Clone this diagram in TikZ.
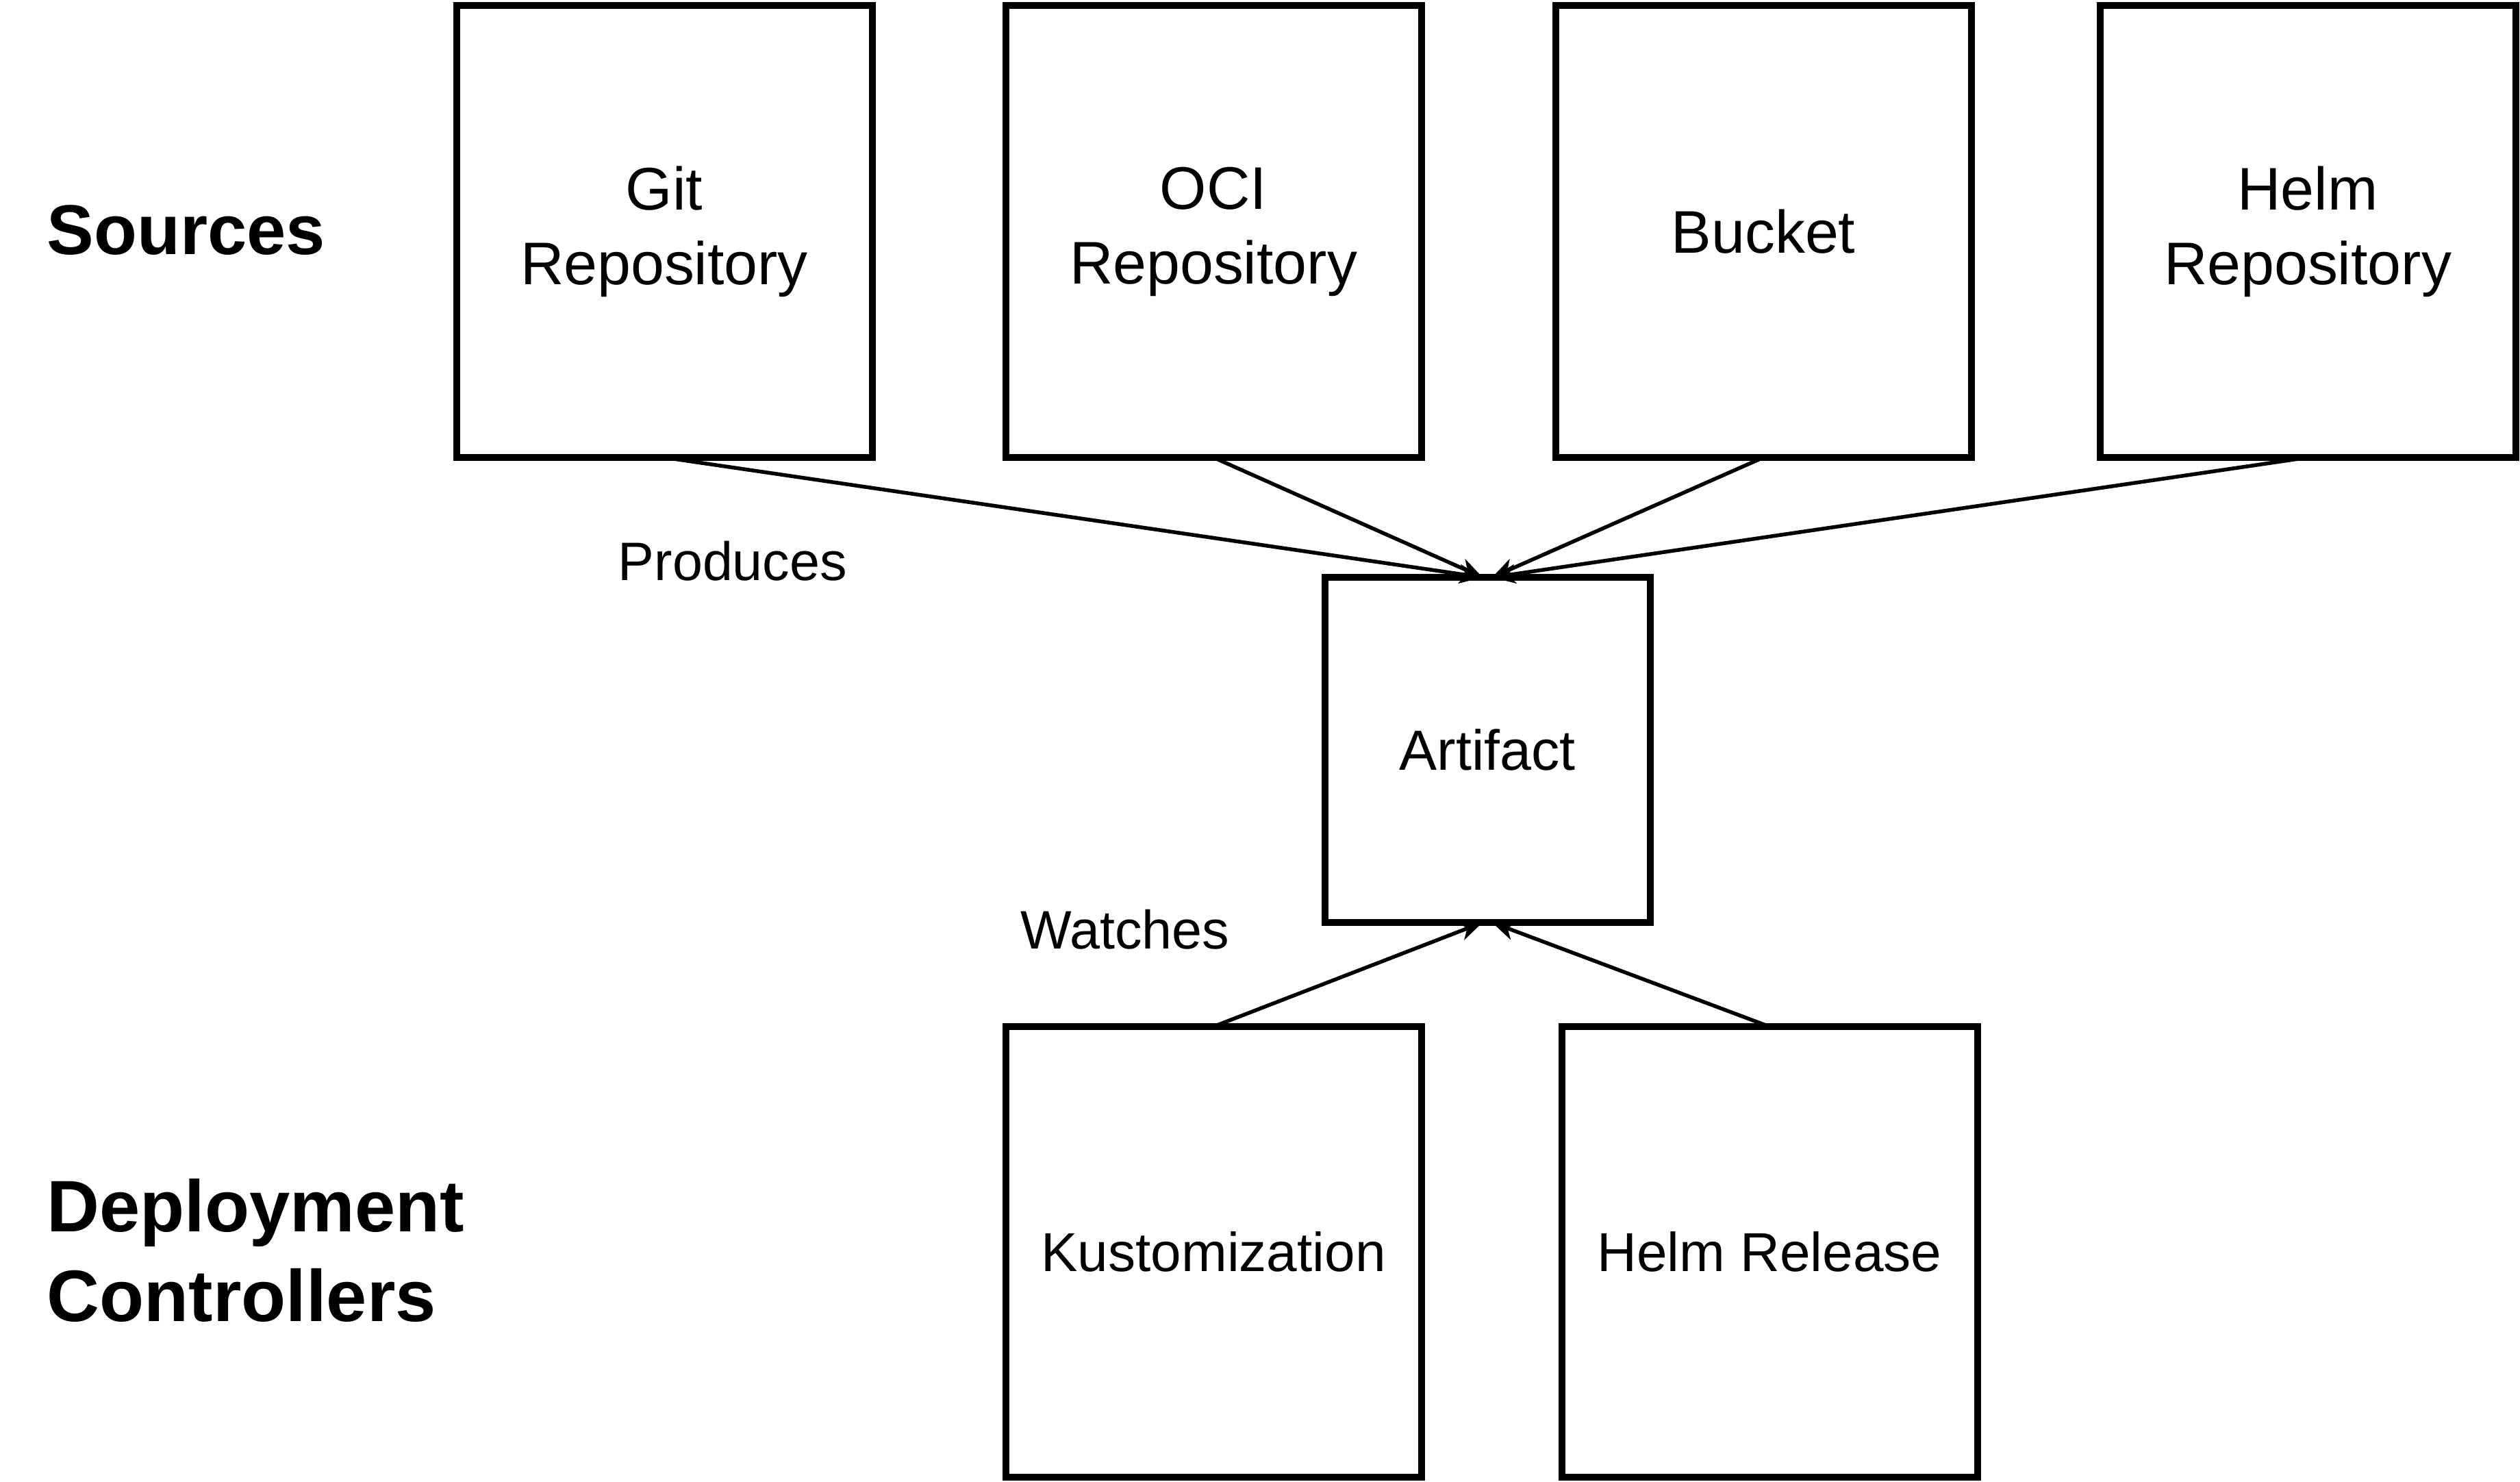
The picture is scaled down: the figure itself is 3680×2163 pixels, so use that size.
\documentclass[tikz,border=0pt]{standalone}
\usepackage{fontspec}
\setmainfont{Liberation Sans}
\usetikzlibrary{arrows.meta}
\begin{document}
\begin{tikzpicture}[x=0.1mm,y=-0.1mm,
  box/.style={draw,line width=1mm,minimum width=60.7mm,minimum height=66mm,inner sep=0pt,outer sep=0pt,align=center,font=\fontsize{25}{31}\selectfont},
  lowbox/.style={box,font=\fontsize{22.8}{27}\selectfont},
  heading/.style={anchor=west,inner sep=0pt,align=left,font=\bfseries\fontsize{30}{37}\selectfont},
  lbl/.style={inner sep=0pt,font=\fontsize{22.5}{27}\selectfont},
  conn/.style={line width=0.55mm,-{Stealth[length=3.4mm,width=2.8mm,inset=1mm]}}
]
\useasboundingbox (0,0) rectangle (3680,2163);
\fill[white] (0,0) rectangle (3680,2163);
\node[box] (git) at (970,338) {Git\\Repository};
\node[box] (oci) at (1772,338) {OCI\\Repository};
\node[box] (bucket) at (2575,338) {Bucket};
\node[box] (helmrepo) at (3370,338) {Helm\\Repository};
\node[lowbox,minimum width=47.5mm,minimum height=50.4mm,font=\fontsize{23.5}{28}\selectfont] (art) at (2172,1095) {Artifact};
\node[lowbox,minimum height=65.8mm] (kust) at (1772,1828) {Kustomization};
\node[lowbox,minimum height=65.8mm] (hr) at (2584,1828) {Helm Release};
\node[heading,font=\bfseries\fontsize{29.3}{37}\selectfont] (src) at (68,336) {Sources};
\node[heading,font=\bfseries\fontsize{30.3}{37.5}\selectfont] (dep) at (68,1826) {Deployment\\Controllers};
\node[lbl] (prod) at (1070,819) {Produces};
\node[lbl] (watch) at (1643,1357) {Watches};
\draw[conn] (git.south) -- ([xshift=-0.7mm]art.north);
\draw[conn] (oci.south) -- ([xshift=-0.7mm]art.north);
\draw[conn] (bucket.south) -- ([xshift=0.7mm]art.north);
\draw[conn] (helmrepo.south) -- ([xshift=0.7mm]art.north);
\draw[conn] (kust.north) -- ([xshift=-0.7mm]art.south);
\draw[conn] (hr.north) -- ([xshift=0.7mm]art.south);
\end{tikzpicture}
\end{document}
